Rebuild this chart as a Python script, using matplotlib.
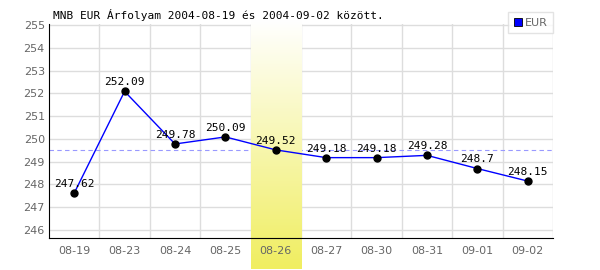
import numpy as np
import matplotlib
matplotlib.use("Agg")
import matplotlib.pyplot as plt
from matplotlib.lines import Line2D

dates = ["08-19", "08-23", "08-24", "08-25", "08-26",
         "08-27", "08-30", "08-31", "09-01", "09-02"]
eur = [247.62, 252.09, 249.78, 250.09, 249.52,
       249.18, 249.18, 249.28, 248.7, 248.15]
highlight = 4          # index of 08-26
ref_value = 249.52     # dashed reference line
y_ticks = [246, 247, 248, 249, 250, 251, 252, 253, 254, 255]

fig = plt.figure(figsize=(6, 2.7), dpi=100)
ax = fig.add_axes([49 / 600, 32 / 270, 504 / 600, 214 / 270])

x = np.arange(len(dates))
ax.set_xlim(-0.5, len(dates) - 0.5)
ax.set_ylim(245.65, 255.05)

# grid: vertical lines between categories, horizontal at integers
for b in np.arange(0.5, len(dates), 1.0):
    ax.axvline(b, color="#dddddd", lw=1, zorder=0.5)
for t in y_ticks:
    ax.axhline(t, color="#dddddd", lw=1, zorder=0.5)

ax.axhline(ref_value, color="#9999ff", lw=0.8, ls=(0, (4, 3)), zorder=0.8)

# yellow gradient band behind the highlighted day
grad = np.linspace(0, 1, 256).reshape(-1, 1)
top = np.array([1.0, 1.0, 1.0])
bot = np.array([240, 238, 96]) / 255
img = top + (bot - top) * grad[..., None]
ax.imshow(img, extent=(highlight - 0.5, highlight + 0.5, 244.3, 255.2),
          aspect="auto", origin="upper", zorder=1, clip_on=False)

ax.plot(x, eur, color="#0000ff", lw=1, zorder=4)
ax.plot(x, eur, "o", color="black", ms=5, zorder=5)
for xi, v in zip(x, eur):
    ax.text(xi, v + 0.18, f"{v:g}", ha="center", va="bottom",
            family="DejaVu Sans Mono", fontsize=8, color="black", zorder=6)

ax.set_xticks(x)
ax.set_xticklabels(dates)
ax.set_yticks(y_ticks)
ax.tick_params(length=0, colors="#666666", labelsize=8, pad=6)
ax.tick_params(axis="y", pad=3)
for s in ["top", "right"]:
    ax.spines[s].set_visible(False)
ax.spines["left"].set_color("black")
ax.spines["bottom"].set_color("black")
ax.spines["left"].set_zorder(7)
ax.spines["bottom"].set_zorder(7)
ax.set_facecolor("white")

fig.text(53 / 600, 1 - 15 / 270, "MNB EUR Árfolyam 2004-08-19 és 2004-09-02 között.",
         family="DejaVu Sans Mono", fontsize=8, va="center", ha="left")

handle = Line2D([], [], marker="s", ls="none", color="#0000ff",
                markeredgecolor="black", markersize=6, markeredgewidth=0.6)
leg = fig.legend([handle], ["EUR"], loc="upper right",
                 bbox_to_anchor=(553 / 600, 1 - 12 / 270), frameon=True,
                 fancybox=False, fontsize=8, handlelength=0.8,
                 handletextpad=0.2, borderpad=0.5, borderaxespad=0)
leg.get_frame().set_edgecolor("#dddddd")
leg.get_frame().set_linewidth(1)
for t in leg.get_texts():
    t.set_color("#666666")

fig.savefig("out.png", dpi=100)
